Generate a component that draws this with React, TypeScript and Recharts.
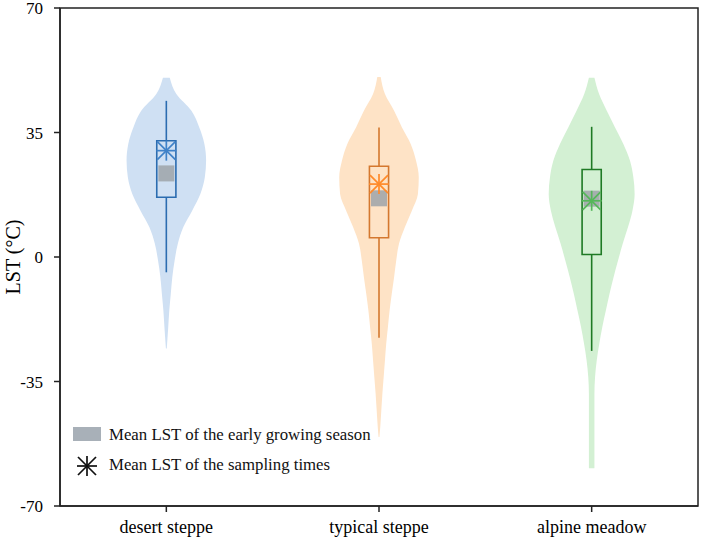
import React from 'react';
import {
  ComposedChart,
  Area,
  XAxis,
  YAxis,
  Scatter,
  ReferenceArea,
  ReferenceLine,
  Legend,
} from 'recharts';

const categories = ['desert steppe', 'typical steppe', 'alpine meadow'];
const positions = [1, 2, 3];
const yTicks = [-70, -35, 0, 35, 70];

// violin outlines: temperature (°C) and half-width (x-axis units)
const desertT = [50.4, 45.8, 41.1, 36.4, 31.8, 27.1, 22.4, 17.7, 13.1, 8.4, 3.7, -1.0, -5.7, -10.3, -15.0, -19.7, -25.7];
const desertW = [0.016, 0.047, 0.118, 0.155, 0.179, 0.187, 0.181, 0.16, 0.122, 0.08, 0.054, 0.039, 0.028, 0.021, 0.014, 0.009, 0.002];

const typicalT = [50.6, 45.8, 41.1, 36.4, 31.8, 27.1, 22.4, 17.7, 13.1, 8.4, 3.7, -1.0, -5.7, -10.3, -15.0, -19.7, -24.3, -29.0, -33.7, -38.4, -43.0, -47.7, -50.6];
const typicalW = [0.008, 0.028, 0.071, 0.108, 0.149, 0.174, 0.187, 0.183, 0.155, 0.122, 0.094, 0.081, 0.071, 0.06, 0.05, 0.042, 0.034, 0.028, 0.022, 0.016, 0.011, 0.006, 0.002];

const alpineT = [50.4, 45.8, 41.1, 36.4, 31.8, 27.1, 22.4, 17.7, 13.1, 8.4, 3.7, -1.0, -5.7, -10.3, -15.0, -19.7, -24.3, -29.0, -33.7, -38.4, -47.7, -57.1, -59.4];
const alpineW = [0.013, 0.035, 0.071, 0.11, 0.149, 0.18, 0.196, 0.202, 0.192, 0.171, 0.146, 0.124, 0.103, 0.084, 0.067, 0.05, 0.036, 0.024, 0.016, 0.013, 0.013, 0.013, 0.013];

// box plot statistics
const boxMin = [-4.3, -22.7, -26.4];
const boxQ1 = [16.8, 5.4, 0.7];
const boxQ3 = [32.7, 25.5, 24.6];
const boxMax = [43.9, 36.4, 36.6];

// means
const earlyMean = [23.5, 16.5, 16.4];
const samplingMean = [29.9, 20.5, 15.8];

const violinFill = ['#cfe0f3', '#fee3c6', '#d3f0d3'];
const boxColor = ['#2b6cb0', '#d4782f', '#1f7a25'];
const starColor = ['#3f82c8', '#ff8a2a', '#55b75a'];

const FONT = '"Liberation Serif", "Times New Roman", serif';
const BOX_HALF = 0.045;

const makeViolin = (T: number[], W: number[]) => T.map((t, i) => ({ t, w: W[i] }));
const violins = [makeViolin(desertT, desertW), makeViolin(typicalT, typicalW), makeViolin(alpineT, alpineW)];

const earlyData = positions.map((x, i) => ({ x, t: earlyMean[i], i }));
const samplingData = positions.map((x, i) => ({ x, t: samplingMean[i], i }));

const SquareShape = (props: any) => {
  const { cx, cy } = props;
  if (cx == null || cy == null) return null;
  return <rect x={cx - 8} y={cy - 8} width={16} height={16} fill="#9ea3a8" fillOpacity={0.85} />;
};

const Asterisk = ({ cx, cy, color, r = 10 }: { cx: number; cy: number; color: string; r?: number }) => {
  const d = r * 0.9;
  return (
    <g stroke={color} strokeWidth={1.7} strokeLinecap="butt">
      <line x1={cx} y1={cy - r} x2={cx} y2={cy + r} />
      <line x1={cx - r} y1={cy} x2={cx + r} y2={cy} />
      <line x1={cx - d} y1={cy - d} x2={cx + d} y2={cy + d} />
      <line x1={cx - d} y1={cy + d} x2={cx + d} y2={cy - d} />
    </g>
  );
};

const StarShape = (props: any) => {
  const { cx, cy, payload } = props;
  if (cx == null || cy == null) return null;
  return <Asterisk cx={cx} cy={cy} color={starColor[payload.i]} />;
};

const LegendContent = () => (
  <svg width={340} height={70} style={{ display: 'block', overflow: 'visible' }}>
    <rect x={13} y={17} width={28} height={14} fill="#a8b0b8" />
    <text x={49} y={30} fontFamily={FONT} fontSize={16.8} fill="#111">
      Mean LST of the early growing season
    </text>
    <Asterisk cx={27} cy={56} color="#111" r={10} />
    <text x={49} y={60} fontFamily={FONT} fontSize={16.8} fill="#111">
      Mean LST of the sampling times
    </text>
  </svg>
);

const YLabel = (props: any) => {
  const vb = props.viewBox || { x: 0, y: 8, width: 60, height: 498 };
  const x = vb.x + 13;
  const y = vb.y + vb.height / 2;
  return (
    <text
      x={x}
      y={y}
      transform={`rotate(-90, ${x}, ${y})`}
      textAnchor="middle"
      dominantBaseline="central"
      fontFamily={FONT}
      fontSize={20}
      fill="#000"
    >
      LST (°C)
    </text>
  );
};

export default function App() {
  return (
    <div style={{ position: 'absolute', left: 0, top: 0, width: 701, height: 537, background: '#fff' }}>
      <ComposedChart
        width={701}
        height={537}
        layout="vertical"
        margin={{ top: 8, right: 3, bottom: 0, left: 0 }}
      >
        <XAxis
          type="number"
          dataKey="x"
          domain={[0.5, 3.5]}
          ticks={positions}
          allowDataOverflow
          tickFormatter={(v: number) => categories[v - 1] ?? ''}
          height={31}
          tickSize={6}
          tickMargin={8}
          stroke="#222"
          strokeWidth={1.5}
          tick={{ fill: '#000', fontSize: 18, fontFamily: FONT }}
        />
        <YAxis
          type="number"
          dataKey="t"
          domain={[-70, 70]}
          ticks={yTicks}
          reversed
          allowDataOverflow
          interval={0}
          width={60}
          tickSize={6}
          tickMargin={11}
          stroke="#222"
          strokeWidth={1.5}
          tick={{ fill: '#000', fontSize: 17, fontFamily: FONT }}
          label={<YLabel />}
        />
        {violins.map((v, i) => (
          <Area
            key={`v${i}`}
            data={v}
            dataKey={(d: any) => [positions[i] - d.w, positions[i] + d.w]}
            type="monotone"
            stroke="none"
            fill={violinFill[i]}
            fillOpacity={1}
            isAnimationActive={false}
            dot={false}
            activeDot={false}
          />
        ))}
        <Scatter data={earlyData} shape={<SquareShape />} isAnimationActive={false} />
        {positions.map((p, i) => (
          <ReferenceLine
            key={`wu${i}`}
            segment={[{ x: p, y: boxMax[i] }, { x: p, y: boxQ3[i] }]}
            stroke={boxColor[i]}
            strokeWidth={1.6}
            ifOverflow="visible"
          />
        ))}
        {positions.map((p, i) => (
          <ReferenceLine
            key={`wl${i}`}
            segment={[{ x: p, y: boxQ1[i] }, { x: p, y: boxMin[i] }]}
            stroke={boxColor[i]}
            strokeWidth={1.6}
            ifOverflow="visible"
          />
        ))}
        {positions.map((p, i) => (
          <ReferenceArea
            key={`b${i}`}
            x1={p - BOX_HALF}
            x2={p + BOX_HALF}
            y1={boxQ1[i]}
            y2={boxQ3[i]}
            stroke={boxColor[i]}
            strokeWidth={1.6}
            fill="none"
            fillOpacity={0}
            ifOverflow="visible"
          />
        ))}
        <Scatter data={samplingData} shape={<StarShape />} isAnimationActive={false} />
        <ReferenceArea
          x1={0.5}
          x2={3.5}
          y1={-70}
          y2={70}
          stroke="#222"
          strokeWidth={1.5}
          fill="none"
          fillOpacity={0}
          ifOverflow="visible"
        />
        <Legend
          layout="horizontal"
          verticalAlign="middle"
          align="center"
          content={<LegendContent />}
          wrapperStyle={{ left: 60, top: 410, width: 340, height: 70 }}
        />
      </ComposedChart>
    </div>
  );
}
